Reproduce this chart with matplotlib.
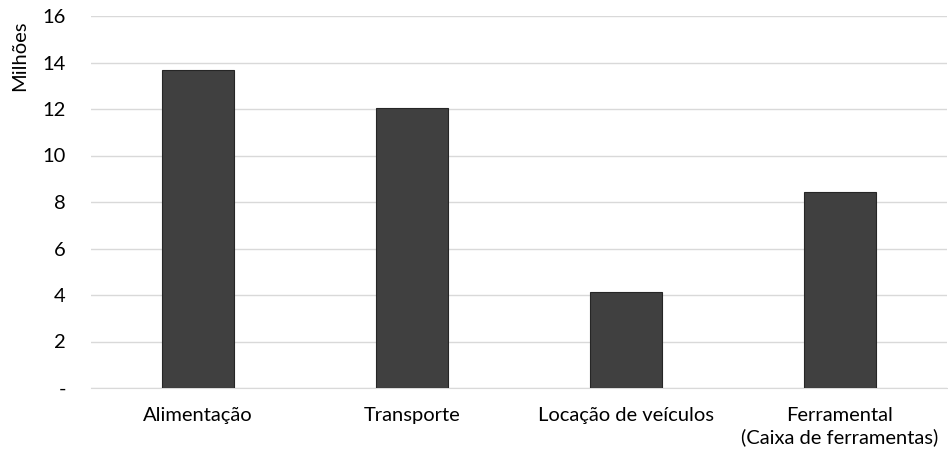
import matplotlib
matplotlib.use("Agg")
import matplotlib.pyplot as plt

categories = ["Alimentação", "Transporte", "Locação de veículos", "Ferramental\n(Caixa de ferramentas)"]
values = [13.68, 12.06, 4.13, 8.43]
yticks = [0, 2, 4, 6, 8, 10, 12, 14, 16]
yticklabels = ["-", "2", "4", "6", "8", "10", "12", "14", "16"]

plt.rcParams['font.family'] = ['Lato', 'DejaVu Sans']

W, H = 948, 454
fig = plt.figure(figsize=(W/100, H/100), dpi=100)
left, right, top, bottom = 91, 947, 16, 388
ax = fig.add_axes([left/W, 1-bottom/H, (right-left)/W, (bottom-top)/H])

x = list(range(len(categories)))
ax.bar(x, values, width=0.335, color="#404040", edgecolor="#262626", linewidth=0.8, zorder=3)
ax.set_xlim(-0.5, len(categories)-0.5)
ax.set_ylim(0, 16)
ax.set_yticks(yticks)
ax.set_yticklabels(yticklabels, fontsize=14.5, color="#000000")
ax.set_xticks(x)
ax.set_xticklabels(categories, fontsize=14.5, color="#000000", linespacing=1.25)
ax.grid(axis="y", color="#d9d9d9", linewidth=1, zorder=0)
for s in ["left", "right", "top"]:
    ax.spines[s].set_visible(False)
ax.spines["bottom"].set_color("#d9d9d9")
ax.tick_params(axis="both", length=0)
ax.tick_params(axis="y", pad=18)
ax.tick_params(axis="x", pad=14)
fig.text(20/W, 1-56/H, "Milhões", rotation=90, ha="center", va="center", fontsize=14.5)

fig.savefig("out.png", dpi=100)
